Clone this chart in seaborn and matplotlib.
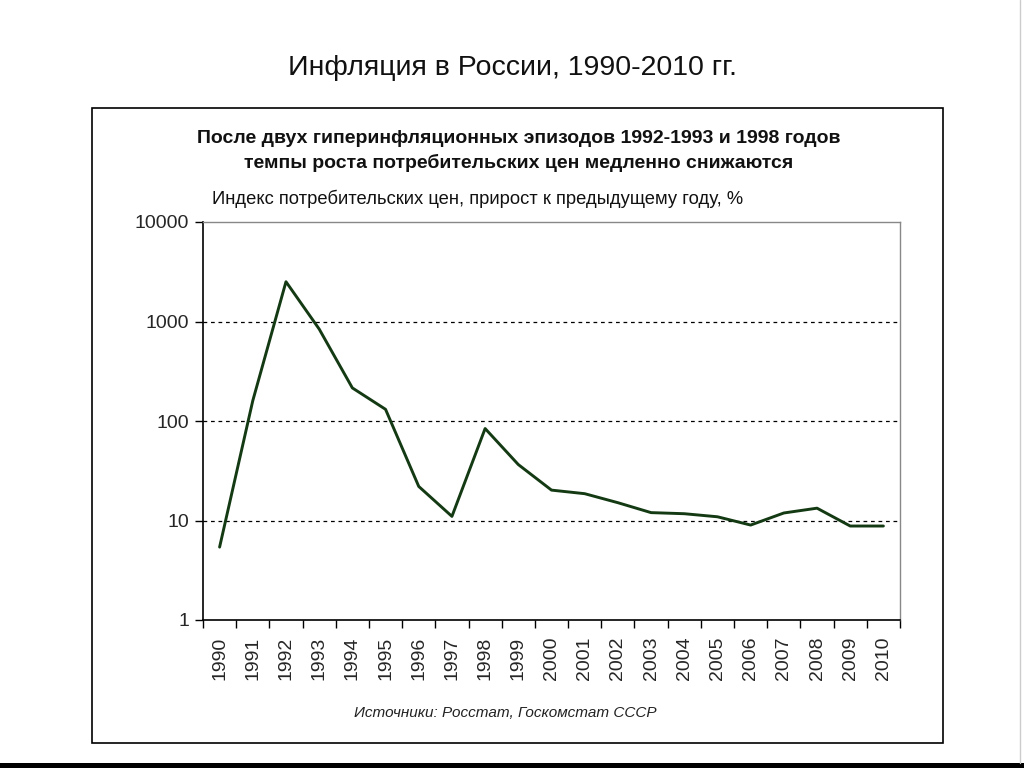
import matplotlib
matplotlib.use("Agg")
import matplotlib.pyplot as plt
import matplotlib.patches as mpatches
import matplotlib.lines as mlines
import matplotlib.ticker as mticker
import seaborn as sns
import pandas as pd

years = list(range(1990, 2011))
cpi_growth = [5.4, 160, 2510, 840, 215, 131, 22, 11, 84, 36.5, 20.2, 18.6,
              15.1, 12.0, 11.7, 10.9, 9.0, 11.9, 13.3, 8.8, 8.8]
y_ticks = [1, 10, 100, 1000, 10000]
y_tick_labels = ["1", "10", "100", "1000", "10000"]

title = "Инфляция в России, 1990-2010 гг."
subtitle = ("После двух гиперинфляционных эпизодов 1992-1993 и 1998 годов\n"
            "темпы роста потребительских цен медленно снижаются")
ylabel = "Индекс потребительских цен, прирост к предыдущему году, %"
source = "Источники: Росстат, Госкомстат СССР"

sns.set_theme(style="white")
plt.rcParams['font.family'] = ['Liberation Sans', 'DejaVu Sans']

df = pd.DataFrame({"year": years, "value": cpi_growth})

fig = plt.figure(figsize=(10.24, 7.68), dpi=100)
fig.patch.set_facecolor("white")

# frame box
fig.patches.append(mpatches.Rectangle((92/1024, 1-743/768), (943-92)/1024, (743-108)/768,
                                      transform=fig.transFigure, fill=False,
                                      edgecolor="black", linewidth=1.2))
# bottom black bar & right thin line
fig.patches.append(mpatches.Rectangle((0, 0), 1, 5/768, transform=fig.transFigure,
                                      facecolor="black", edgecolor="none"))
fig.lines.append(mlines.Line2D([1020/1024, 1020/1024], [5/768, 1], transform=fig.transFigure,
                               color="#cccccc", linewidth=1))

ax = fig.add_axes([203/1024, 1-620/768, (900-203)/1024, (620-222)/768])
sns.lineplot(data=df, x="year", y="value", ax=ax, color="#143a14", linewidth=2.1)

ax.set_yscale("log")
ax.set_ylim(1, 10000)
ax.set_xlim(1989.5, 2010.5)
ax.yaxis.set_major_locator(mticker.FixedLocator(y_ticks))
ax.yaxis.set_major_formatter(mticker.FixedFormatter(y_tick_labels))
ax.yaxis.set_minor_locator(mticker.NullLocator())
ax.tick_params(axis="y", which="major", left=True, length=6, width=1, color="black",
               labelsize=14, pad=4)

ax.xaxis.set_major_locator(mticker.FixedLocator([y - 0.5 for y in years] + [2010.5]))
ax.xaxis.set_major_formatter(mticker.NullFormatter())
ax.xaxis.set_minor_locator(mticker.FixedLocator(years))
ax.xaxis.set_minor_formatter(mticker.FixedFormatter([str(y) for y in years]))
ax.tick_params(axis="x", which="major", bottom=True, length=6, width=1, color="black")
ax.tick_params(axis="x", which="minor", bottom=True, length=0, labelsize=14,
               labelrotation=90, pad=12)

for yv in [10, 100, 1000]:
    ax.axhline(yv, color="black", linestyle=(0, (3, 3)), linewidth=0.9, zorder=0)

ax.grid(False)
ax.set_xlabel("")
ax.set_ylabel("")
for s in ["left", "bottom"]:
    ax.spines[s].set_color("black")
    ax.spines[s].set_linewidth(1.2)
for s in ["top", "right"]:
    ax.spines[s].set_color("#888888")
    ax.spines[s].set_linewidth(1.0)

fig.text(0.5, 1-68/768, title, ha="center", va="center", fontsize=20.5, color="#111111")
fig.text(519/1024, 1-151/768, subtitle, ha="center", va="center", fontsize=14,
         fontweight="bold", linespacing=1.45, color="#111111")
fig.text(212/1024, 1-199/768, ylabel, ha="left", va="center", fontsize=13.2, color="#111111")
fig.text(505/1024, 1-713/768, source, ha="center", va="center", fontsize=11,
         style="italic", color="#222222")

fig.savefig("out.png", dpi=100)
